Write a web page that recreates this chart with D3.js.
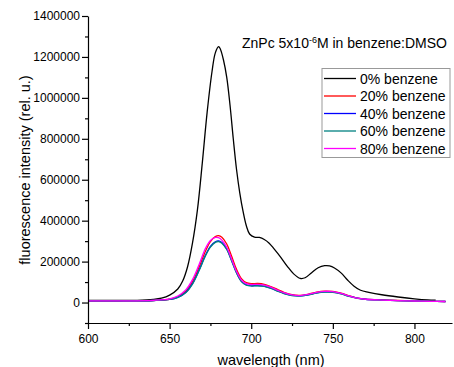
<!DOCTYPE html>
<html>
<head>
<meta charset="utf-8">
<script src="https://cdn.jsdelivr.net/npm/d3@7"></script>
<style>
  html, body { margin: 0; padding: 0; background: #fff; }
  svg { display: block; font-family: "Liberation Sans", Arial, sans-serif; }
</style>
</head>
<body>
<svg id="chart" width="454" height="367"></svg>
<script>
// Emission spectra: [wavelength nm, intensity]
const black0 = [
  [600,10000],[620,10000],[630,11000],[640,15000],[645,21000],[650,36000],[655,66000],
  [658,105000],[661,175000],[664,290000],[667,450000],[670,680000],[673,930000],
  [676,1130000],[678,1220000],[680,1250000],[681,1240000],[683,1185000],[685,1100000],
  [687,965000],[689,800000],[691,650000],[693,535000],[695,445000],[697,375000],
  [699,335000],[702,320000],[705,318000],[708,308000],[711,290000],[714,262000],
  [718,222000],[722,178000],[726,140000],[730,118000],[733,121000],[737,146000],
  [741,170000],[745,180000],[748,179000],[751,169000],[755,145000],[759,110000],
  [763,80000],[767,60000],[772,50000],[780,38000],[790,27000],[800,18000],[808,13000],[813,12000]
];
const red20 = [
  [600,8000],[620,8000],[640,10000],[650,16000],[655,28000],[660,56000],[664,102000],
  [668,172000],[672,252000],[675,298000],[678,322000],[680,327000],[682,319000],
  [685,286000],[688,226000],[691,162000],[694,117000],[697,97000],[700,92000],
  [704,93000],[708,89000],[712,78000],[716,64000],[720,50000],[725,38000],[730,35000],
  [735,41000],[740,51000],[745,56000],[750,54000],[755,46000],[760,33000],[765,22000],
  [770,17000],[780,13000],[790,10000],[800,8000],[810,6000],[819,5000]
];
const blue40 = [
  [600,8000],[620,8000],[640,10000],[650,15000],[655,25000],[660,50000],[664,92000],
  [668,158000],[672,232000],[675,274000],[678,297000],[680,301000],[682,293000],
  [685,262000],[688,205000],[691,146000],[694,104000],[697,86000],[700,82000],
  [704,83000],[708,80000],[712,70000],[716,57000],[720,45000],[725,35000],[730,33000],
  [735,38000],[740,47000],[745,52000],[750,51000],[755,43000],[760,31000],[765,21000],
  [770,16000],[780,12000],[790,9500],[800,7500],[810,6000],[819,5000]
];
const teal60 = [
  [600,8000],[620,8000],[640,10000],[650,15000],[655,25000],[660,49000],[664,90000],
  [668,155000],[672,229000],[675,271000],[678,294000],[680,298000],[682,290000],
  [685,259000],[688,203000],[691,144000],[694,102000],[697,85000],[700,81000],
  [704,82000],[708,79000],[712,69000],[716,56000],[720,44000],[725,34000],[730,32000],
  [735,37000],[740,46000],[745,51000],[750,50000],[755,42000],[760,30000],[765,20000],
  [770,15000],[780,12000],[790,9500],[800,7500],[810,6000],[819,5000]
];
const magenta80 = [
  [600,8000],[620,8000],[640,11000],[650,18000],[655,32000],[660,63000],[664,112000],
  [668,185000],[672,265000],[675,303000],[678,318000],[680,317000],[682,305000],
  [685,270000],[688,212000],[691,152000],[694,110000],[697,92000],[700,88000],
  [704,89000],[708,85000],[712,75000],[716,61000],[720,48000],[725,37000],[730,34000],
  [735,40000],[740,50000],[745,55000],[750,53000],[755,45000],[760,32000],[765,21000],
  [770,16000],[780,12000],[790,9500],[800,7500],[810,6000],[819,5000]
];

const seriesNames = ["0% benzene","20% benzene","40% benzene","60% benzene","80% benzene"];
const seriesData = [black0, red20, blue40, teal60, magenta80];
const seriesColors = ["#000000","#ff0000","#0000ff","#008080","#ff00ff"];

const xTicks = [600,650,700,750,800];
const xMinorTicks = [625,675,725,775];
const yTicks = [0,200000,400000,600000,800000,1000000,1200000,1400000];
const yMinorTicks = [-100000,100000,300000,500000,700000,900000,1100000,1300000];

const svg = d3.select("#chart");
const x = d3.scaleLinear().domain([600, 823]).range([88, 452]);
const y = d3.scaleLinear().domain([-100000, 1400000]).range([323, 16]);

// Curves
const line = d3.line()
  .x(d => x(d[0])).y(d => y(d[1]))
  .curve(d3.curveCatmullRom.alpha(0.5));

svg.append("g").selectAll("path")
  .data(seriesData)
  .join("path")
  .attr("fill", "none")
  .attr("stroke", (d, i) => seriesColors[i])
  .attr("stroke-width", 1.3)
  .attr("d", line);

// Axes
svg.append("g").attr("transform", "translate(0,323)")
  .call(d3.axisBottom(x).tickValues(xTicks).tickSize(6).tickPadding(5).tickSizeOuter(0));
svg.append("g").attr("transform", "translate(0,323)")
  .call(d3.axisBottom(x).tickValues(xMinorTicks).tickSize(3).tickFormat("").tickSizeOuter(0))
  .select(".domain").remove();

svg.append("g").attr("transform", "translate(88,0)")
  .call(d3.axisLeft(y).tickValues(yTicks).tickSize(6).tickPadding(2).tickSizeOuter(0).tickFormat(d3.format("d")));
svg.append("g").attr("transform", "translate(88,0)")
  .call(d3.axisLeft(y).tickValues(yMinorTicks).tickSize(3).tickFormat("").tickSizeOuter(0))
  .select(".domain").remove();

svg.selectAll(".tick text").attr("font-size", 12).attr("fill", "#000")
  .attr("font-family", "Liberation Sans, Arial, sans-serif");
svg.selectAll(".domain, .tick line").attr("stroke", "#000").attr("stroke-width", 1.2);

// Axis titles
svg.append("text")
  .attr("x", 271).attr("y", 365)
  .attr("text-anchor", "middle").attr("font-size", 14.5)
  .text("wavelength (nm)");
svg.append("text")
  .attr("transform", "translate(30,170) rotate(-90)")
  .attr("text-anchor", "middle").attr("font-size", 14.5)
  .text("fluorescence intensity (rel. u.)");

// Title with superscript exponent
const title = svg.append("text").attr("x", 242).attr("y", 48).attr("font-size", 14);
title.append("tspan").text("ZnPc 5x10");
title.append("tspan").attr("dy", -5).attr("font-size", 9).text("-6");
title.append("tspan").attr("dy", 5).text("M in benzene:DMSO");

// Legend
const lg = svg.append("g");
lg.append("rect")
  .attr("x", 322).attr("y", 68.5).attr("width", 128).attr("height", 89)
  .attr("fill", "#fff").attr("stroke", "#999").attr("stroke-width", 1);
const rows = lg.selectAll("g.row").data(seriesNames).join("g")
  .attr("class", "row")
  .attr("transform", (d, i) => `translate(0,${78.5 + i * 17.5})`);
rows.append("line")
  .attr("x1", 324).attr("x2", 356)
  .attr("stroke", (d, i) => seriesColors[i]).attr("stroke-width", 1.3);
rows.append("text")
  .attr("x", 360).attr("y", 5).attr("font-size", 14)
  .text(d => d);
</script>
</body>
</html>
